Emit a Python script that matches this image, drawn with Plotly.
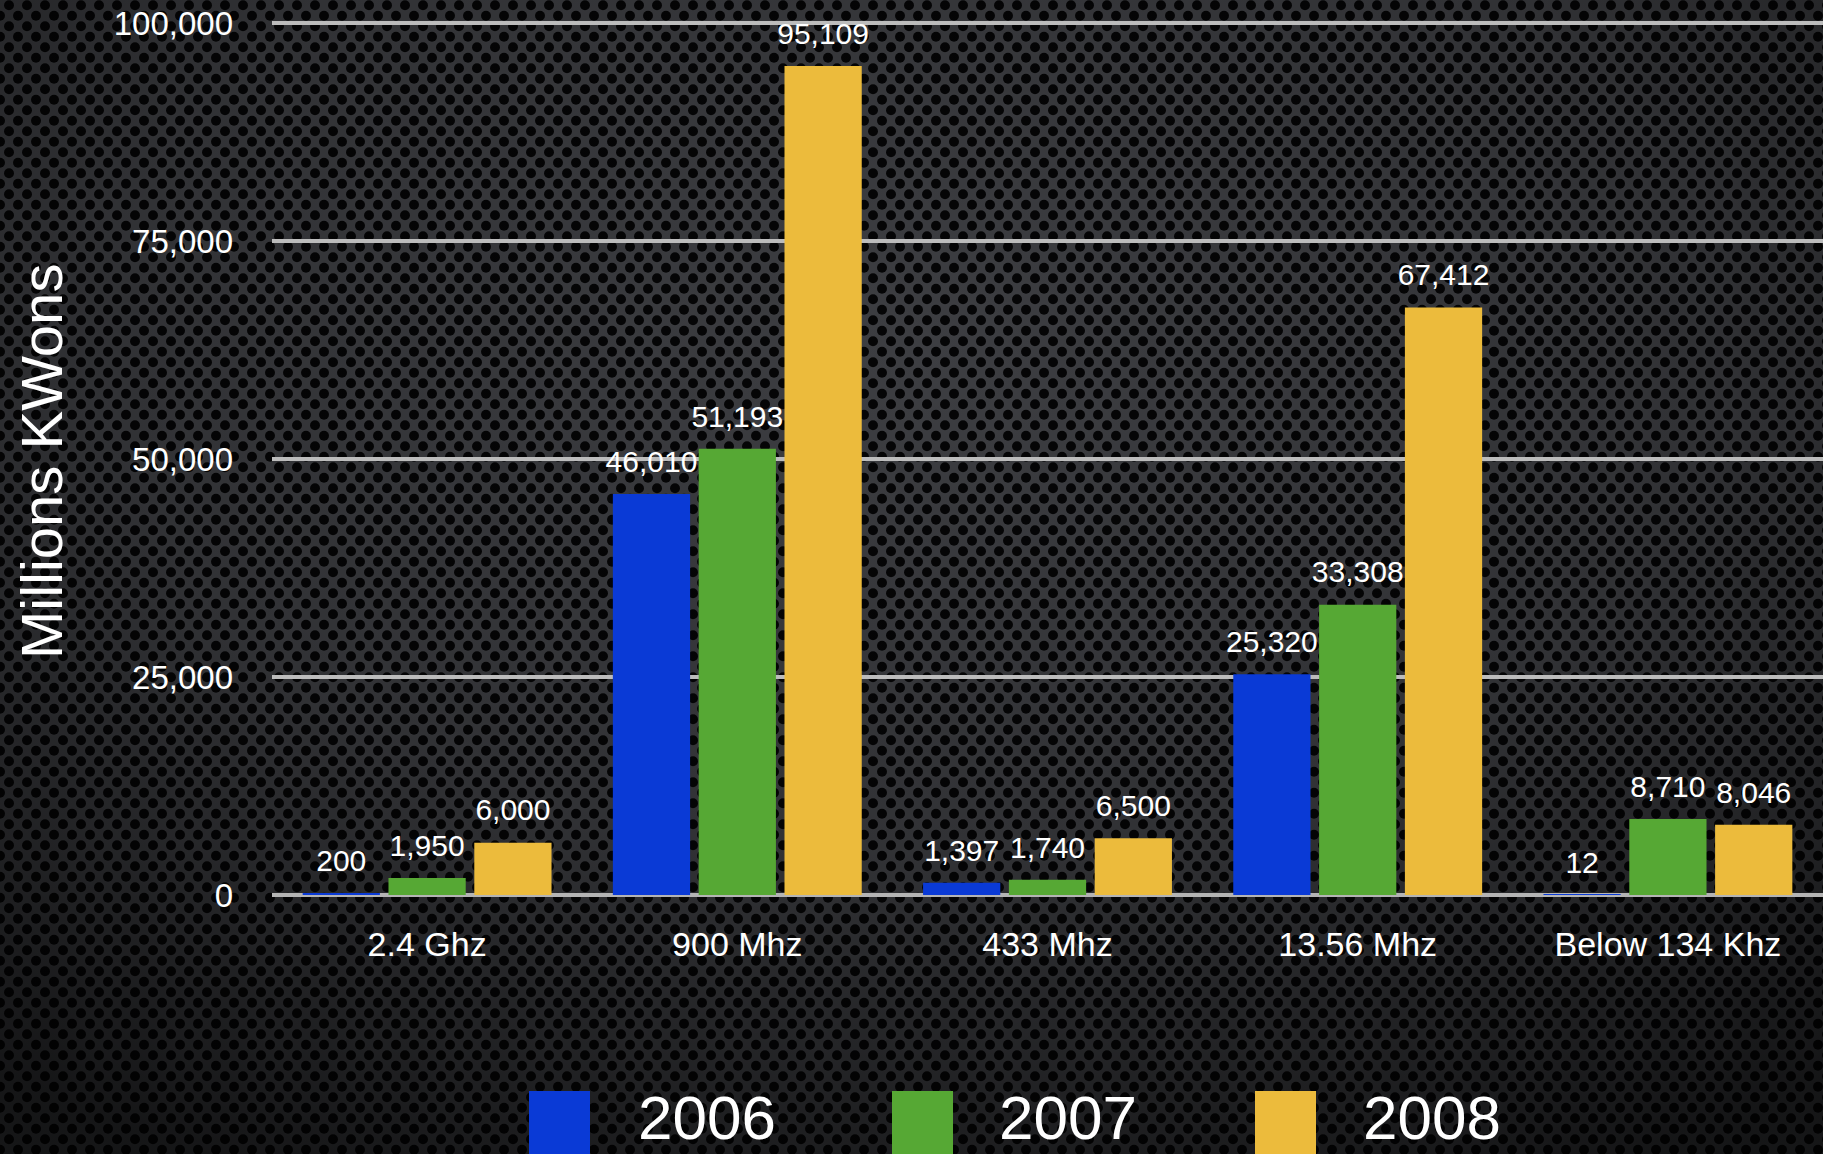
import base64
import plotly.graph_objects as go

# ---------------- data ----------------
categories = ["2.4 Ghz", "900 Mhz", "433 Mhz", "13.56 Mhz", "Below 134 Khz"]
years = ["2006", "2007", "2008"]
values_2006 = [200, 46010, 1397, 25320, 12]
values_2007 = [1950, 51193, 1740, 33308, 8710]
values_2008 = [6000, 95109, 6500, 67412, 8046]
y_ticks = [0, 25000, 50000, 75000, 100000]
y_title = "Millions KWons"

series = [values_2006, values_2007, values_2008]
colors = ["#0a3ad6", "#56a834", "#ecbb3c"]

# ---------------- geometry (pixels of the 1823x1154 page) ----------------
W, H = 1823, 1154
L, R, T, B = 272, 0, 19, 259
PW, PH = W - L - R, H - T - B


def px2x(px):
    return (px - L) / PW


def px2y(py):
    return (H - B - py) / PH


# ---------------- perforated-metal background ----------------
svg = f'''<svg xmlns="http://www.w3.org/2000/svg" width="{W}" height="{H}" viewBox="0 0 {W} {H}">
<defs>
<pattern id="p" width="18" height="21" patternUnits="userSpaceOnUse">
<rect width="18" height="21" fill="#3d3e42"/>
<circle cx="9" cy="5.25" r="5" fill="#050506"/>
<circle cx="0" cy="15.75" r="5" fill="#050506"/>
<circle cx="18" cy="15.75" r="5" fill="#050506"/>
</pattern>
<radialGradient id="g" cx="0.5" cy="0.3" r="0.8">
<stop offset="0" stop-color="#000" stop-opacity="0"/>
<stop offset="0.55" stop-color="#000" stop-opacity="0.2"/>
<stop offset="1" stop-color="#000" stop-opacity="0.65"/>
</radialGradient>
</defs>
<rect width="100%" height="100%" fill="url(#p)"/>
<rect width="100%" height="100%" fill="url(#g)"/>
</svg>'''
bg_uri = "data:image/svg+xml;base64," + base64.b64encode(svg.encode()).decode()

fig = go.Figure()

for k, (yr, vals, col) in enumerate(zip(years, series, colors)):
    fig.add_trace(go.Bar(
        x=categories, y=vals, name=yr, offsetgroup=str(k),
        marker=dict(color=col, line=dict(width=0)),
        hoverinfo="x+y+name",
    ))
for k, (yr, vals) in enumerate(zip(years, series)):
    fig.add_trace(go.Scatter(
        x=categories, y=vals, offsetgroup=str(k),
        mode="markers+text", text=[f"{v:,}" for v in vals],
        textposition="top center",
        textfont=dict(family="Liberation Sans, Arial, sans-serif", size=30, color="white"),
        marker=dict(size=22, opacity=0),
        cliponaxis=False, hoverinfo="skip", showlegend=False,
    ))

font_family = "Liberation Sans, Arial, Helvetica, sans-serif"

fig.update_layout(
    width=W, height=H,
    margin=dict(l=L, r=R, t=T, b=B, pad=0),
    paper_bgcolor="#1d1e21",
    plot_bgcolor="rgba(0,0,0,0)",
    showlegend=False,
    barmode="group",
    scattermode="group",
    bargap=0.17,
    bargroupgap=0.1,
    font=dict(family=font_family, color="white"),
    xaxis=dict(
        showgrid=False, showline=False, zeroline=False,
        tickfont=dict(size=34, color="white"),
        ticklabelstandoff=26,
        fixedrange=True,
    ),
    yaxis=dict(
        range=[0, 100500],
        tickvals=y_ticks,
        tickformat=",",
        showgrid=True, gridcolor="#bcbcbc", gridwidth=4,
        zeroline=True, zerolinecolor="#b4b4b4", zerolinewidth=4,
        showline=False,
        tickfont=dict(size=33, color="white"),
        ticklabelstandoff=38,
        fixedrange=True,
    ),
    images=[dict(
        source=bg_uri, xref="paper", yref="paper",
        x=px2x(0), y=px2y(0), sizex=W / PW, sizey=H / PH,
        xanchor="left", yanchor="top", sizing="stretch", layer="below",
    )],
)

annotations = [dict(
    text=y_title, xref="paper", yref="paper",
    x=px2x(41), y=px2y(462), xanchor="center", yanchor="middle",
    textangle=-90, showarrow=False,
    font=dict(size=58, color="white", family=font_family),
)]

# manual legend (big swatches)
legend_sw_left = [529, 892, 1255]
legend_text_left = [636, 997, 1361]
shapes = []
for yr, col, sx, tx in zip(years, colors, legend_sw_left, legend_text_left):
    shapes.append(dict(
        type="rect", xref="paper", yref="paper",
        x0=px2x(sx), x1=px2x(sx + 61), y0=px2y(1160), y1=px2y(1091),
        fillcolor=col, line=dict(width=0), layer="above",
    ))
    annotations.append(dict(
        text=yr, xref="paper", yref="paper",
        x=px2x(tx), y=px2y(1117), xanchor="left", yanchor="middle",
        showarrow=False, font=dict(size=62, color="white", family=font_family),
    ))

fig.update_layout(annotations=annotations, shapes=shapes)

fig.write_html("out.html")
